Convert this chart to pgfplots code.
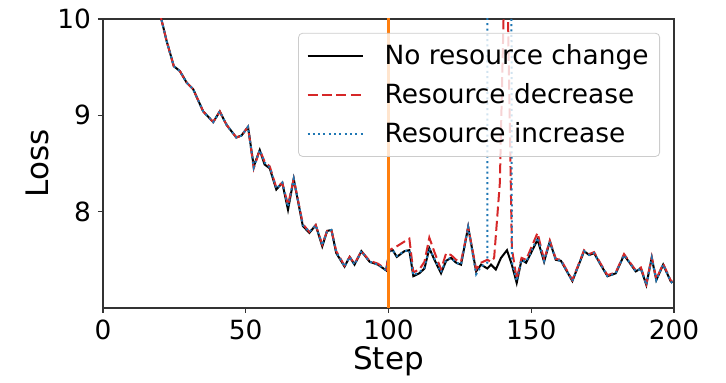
\documentclass[border=0pt]{standalone}
\usepackage{fontspec}
\setmainfont{DejaVu Sans}
\usepackage{pgfplots}
\usepackage{pgfplotstable}
\pgfplotsset{compat=1.18}
\definecolor{mplred}{HTML}{D62728}
\definecolor{mplblue}{HTML}{1F77B4}
\definecolor{mplorange}{HTML}{FF7F0E}

\pgfplotstableread{
x y
0 12.5
5 11.8
10 11.2
15 10.6
18 10.3
20.5 9.99
22.3 9.77
24.8 9.51
26.9 9.46
29.3 9.34
31.6 9.27
35.1 9.04
38.6 8.93
40.9 9.04
43.3 8.90
46.7 8.77
48.5 8.79
50.8 8.88
52.8 8.47
54.9 8.64
56.6 8.49
58.4 8.45
60.7 8.23
62.8 8.30
64.8 8.02
66.8 8.34
70.0 7.85
72.3 7.78
74.5 7.86
76.8 7.64
78.5 7.80
80.0 7.81
81.7 7.57
84.6 7.43
86.4 7.53
88.1 7.45
90.5 7.59
93.4 7.48
96.3 7.45
99.2 7.39
100.3 7.59
101.5 7.60
102.9 7.53
105.6 7.59
107.3 7.60
108.7 7.33
110.8 7.36
112.6 7.41
114.3 7.62
116.1 7.50
118.4 7.36
120.2 7.49
121.9 7.52
123.7 7.47
125.4 7.45
127.9 7.84
130.7 7.38
132.4 7.45
134.6 7.41
135.9 7.45
137.6 7.40
139.4 7.52
141.5 7.60
143.2 7.45
144.9 7.26
146.6 7.50
148.2 7.47
149.9 7.57
152.2 7.71
154.5 7.48
156.5 7.69
158.6 7.50
160.4 7.49
164.4 7.28
168.5 7.59
170.3 7.55
172.0 7.57
174.3 7.45
176.7 7.33
179.6 7.36
182.5 7.55
186.6 7.38
188.4 7.41
190.3 7.24
192.2 7.52
193.8 7.29
196.2 7.45
198.8 7.28
199.4 7.26
}\nochange

\pgfplotstableread{
x y
0 12.5
5 11.8
10 11.2
15 10.6
18 10.3
20.5 9.99
22.3 9.77
24.8 9.51
26.9 9.46
29.3 9.34
31.6 9.27
35.1 9.04
38.6 8.93
40.9 9.04
43.3 8.90
46.7 8.77
48.5 8.79
50.8 8.88
52.8 8.45
54.9 8.64
56.6 8.52
58.4 8.47
60.7 8.25
62.8 8.30
64.8 8.07
66.8 8.34
70.0 7.87
72.3 7.79
74.5 7.86
76.8 7.66
78.5 7.80
80.0 7.81
81.7 7.59
84.6 7.44
86.4 7.53
88.1 7.46
90.5 7.59
93.4 7.49
96.3 7.46
99.2 7.40
100.3 7.60
101.5 7.62
102.9 7.64
105.6 7.69
107.3 7.72
108.7 7.37
110.8 7.40
112.6 7.48
114.3 7.73
116.1 7.58
118.4 7.40
120.2 7.57
121.9 7.55
123.7 7.50
125.4 7.48
127.9 7.84
130.7 7.40
132.4 7.47
134.6 7.50
135.9 7.48
137.0 7.52
139.0 8.30
141.2 11.2
143.2 7.62
144.9 7.30
146.6 7.52
148.2 7.50
149.9 7.62
152.2 7.78
154.5 7.50
156.5 7.70
158.6 7.51
160.4 7.50
164.4 7.29
168.5 7.60
170.3 7.56
172.0 7.58
174.3 7.46
176.7 7.34
179.6 7.37
182.5 7.56
186.6 7.39
188.4 7.42
190.3 7.25
192.2 7.53
193.8 7.30
196.2 7.46
198.8 7.29
199.4 7.27
}\decrease

\pgfplotstableread{
x y
0 12.5
5 11.8
10 11.2
15 10.6
18 10.3
20.5 9.99
22.3 9.77
24.8 9.51
26.9 9.46
29.3 9.34
31.6 9.27
35.1 9.04
38.6 8.93
40.9 9.04
43.3 8.90
46.7 8.77
48.5 8.79
50.8 8.88
52.8 8.46
54.9 8.64
56.6 8.51
58.4 8.46
60.7 8.24
62.8 8.30
64.8 8.05
66.8 8.34
70.0 7.86
72.3 7.79
74.5 7.86
76.8 7.65
78.5 7.80
80.0 7.81
81.7 7.58
84.6 7.43
86.4 7.53
88.1 7.45
90.5 7.59
93.4 7.48
96.3 7.45
99.2 7.39
100.3 7.59
101.5 7.60
102.9 7.54
105.6 7.59
107.3 7.60
108.7 7.34
110.8 7.37
112.6 7.42
114.3 7.62
116.1 7.51
118.4 7.37
120.2 7.50
121.9 7.52
123.7 7.47
125.4 7.45
127.9 7.84
130.7 7.35
132.4 7.43
134.6 7.47
135.4 40
137.6 40
139.4 40
141.5 40
143.2 7.48
144.9 7.28
146.6 7.50
148.2 7.48
149.9 7.58
152.2 7.73
154.5 7.49
156.5 7.69
158.6 7.50
160.4 7.49
164.4 7.28
168.5 7.59
170.3 7.55
172.0 7.57
174.3 7.45
176.7 7.33
179.6 7.36
182.5 7.55
186.6 7.38
188.4 7.41
190.3 7.24
192.2 7.52
193.8 7.29
196.2 7.45
198.8 7.28
199.4 7.26
}\increase

\begin{document}
\begin{tikzpicture}
\begin{axis}[
  scale only axis, width=285.5pt, height=144.5pt,
  xmin=0, xmax=200, ymin=7, ymax=10,
  xtick={0,50,100,150,200}, ytick={8,9,10},
  tick align=outside, major tick length=2.5pt,
  xtick pos=bottom, ytick pos=left,
  tick style={black!80, line width=0.6pt},
  axis line style={black!80, line width=0.6pt},
  /pgf/number format/assume math mode=true,
  tick label style={font=\fontsize{13.2}{15}\selectfont},
  xlabel={Step}, ylabel={Loss},
  every axis x label/.style={at={(axis description cs:0.5,-0.185)},anchor=center,font=\fontsize{15.5}{18}\selectfont},
  every axis y label/.style={at={(axis description cs:-0.114,0.5)},rotate=90,anchor=center,font=\fontsize{15.5}{18}\selectfont},
  legend style={at={(0.9755,0.952)}, anchor=north east, draw=black!20,
    rounded corners=2pt, fill=white, fill opacity=0.8, text opacity=1,
    font=\fontsize{13.2}{15}\selectfont, inner xsep=4pt, inner ysep=4pt,
    row sep=5pt, nodes={inner sep=1.5pt},
    /tikz/every odd column/.append style={column sep=9pt}},
  legend cell align=left,
  legend image code/.code={\draw[#1] (0pt,0pt) -- (27.5pt,0pt);},
]
\addplot[black, line width=1pt] table[x=x,y=y] {\nochange};
\addlegendentry{No resource change}
\addplot[mplred, line width=1pt, dash pattern=on 5pt off 2.2pt] table[x=x,y=y] {\decrease};
\addlegendentry{Resource decrease}
\addplot[mplblue, line width=1pt, dash pattern=on 1pt off 1.65pt] table[x=x,y=y] {\increase};
\addlegendentry{Resource increase}
\addplot[mplorange, line width=1.3pt, forget plot] coordinates {(100,6) (100,11)};
\end{axis}
\path[use as bounding box] ([xshift=-51.5pt,yshift=-35pt]current axis.south west) rectangle ([xshift=26pt,yshift=9.5pt]current axis.north east);
\end{tikzpicture}
\end{document}
